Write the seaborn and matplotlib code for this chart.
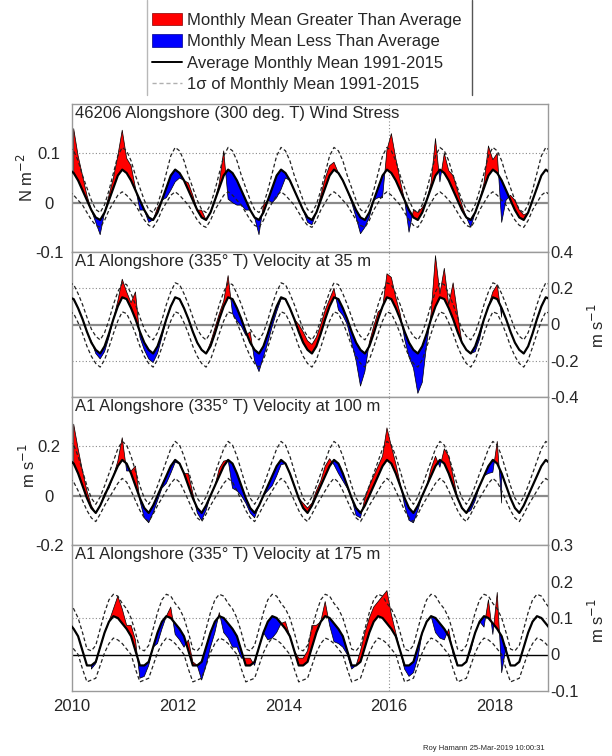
import numpy as np
import pandas as pd
import seaborn as sns
import matplotlib
matplotlib.use("Agg")
import matplotlib.pyplot as plt
from matplotlib.patches import Patch
from matplotlib.lines import Line2D

NaN = np.nan
years = list(range(2010, 2019))
x_ticks = [2010, 2012, 2014, 2016, 2018]

# ---------------- Panel 1: 46206 wind stress (N m^-2) ----------------
wind_clim = [0.060, 0.045, 0.025, 0.005, -0.015, -0.030, -0.035, -0.020, 0.005, 0.030, 0.055, 0.067]
wind_sig = [0.045, 0.040, 0.030, 0.025, 0.020, 0.016, 0.015, 0.016, 0.020, 0.030, 0.040, 0.045]
wind_anom = [
    0.09, 0.05, 0.03, 0.01, 0.0, -0.01, -0.03, 0.0, 0.01, 0.02, 0.04, 0.08,      # 2010
    0.03, 0.03, 0.005, -0.02, 0.0, -0.01, 0.0, 0.01, 0.0, -0.02, -0.03, -0.025,  # 2011
    -0.01, 0.0, 0.015, 0.01, 0.0, 0.015, 0.0, 0.0, 0.0, 0.01, 0.05, -0.06,       # 2012
    -0.06, -0.05, -0.03, -0.02, 0.0, 0.0, -0.03, 0.015, 0.0, -0.03, -0.045, -0.04,  # 2013
    -0.01, 0.0, 0.0, 0.0, 0.0, -0.01, -0.01, 0.0, 0.01, 0.02, 0.02, 0.015,       # 2014
    0.0, 0.0, 0.0, -0.005, -0.015, -0.033, -0.015, -0.01, 0.0, -0.02, -0.045, 0.04,  # 2015
    0.08, 0.045, 0.02, 0.0, -0.045, 0.015, 0.015, 0.01, 0.0, 0.01, 0.075, -0.025,  # 2016
    0.04, 0.02, 0.03, 0.02, 0.01, 0.0, -0.015, 0.0, 0.0, 0.01, 0.06, 0.02,       # 2017
    0.04, -0.085, -0.02, 0.01, 0.02, 0.015, 0.01, 0.0, NaN, NaN, NaN, NaN,       # 2018
]

# ---------------- Panel 2: A1 velocity at 35 m (m s^-1) ----------------
v35_clim = [0.14, 0.09, 0.03, -0.04, -0.10, -0.14, -0.16, -0.12, -0.05, 0.03, 0.10, 0.15]
v35_sig = [0.08, 0.08, 0.08, 0.08, 0.075, 0.075, 0.075, 0.075, 0.075, 0.08, 0.08, 0.08]
v35_anom = [
    NaN, NaN, NaN, NaN, 0.01, -0.02, -0.03, -0.03, -0.02, 0.0, 0.03, 0.10,       # 2010
    0.04, 0.03, 0.15, -0.03, -0.04, -0.05, -0.05, -0.04, -0.02, 0.0, 0.0, 0.0,   # 2011
    0.0, 0.0, 0.0, 0.0, 0.0, 0.0, 0.0, 0.02, 0.03, 0.03, 0.03, 0.12,             # 2012
    -0.08, -0.07, -0.04, -0.02, 0.06, -0.06, -0.10, -0.06, -0.05, -0.04, -0.03, -0.01,  # 2013
    0.0, 0.0, 0.0, 0.04, 0.06, 0.05, 0.05, 0.05, 0.05, 0.05, 0.04, 0.05,         # 2014
    -0.06, -0.04, -0.03, -0.06, -0.10, -0.20, -0.10, 0.02, 0.04, 0.04, -0.01, 0.13,  # 2015
    0.12, 0.06, 0.03, -0.04, -0.08, -0.10, -0.22, -0.20, -0.06, 0.03, 0.28, 0.02,  # 2016
    0.17, 0.02, 0.20, 0.10, 0.0, 0.0, 0.0, -0.03, -0.03, 0.0, 0.0, 0.03,         # 2017
    0.08, -0.05, NaN, NaN, NaN, NaN, NaN, NaN, NaN, NaN, NaN, NaN,               # 2018
]

# ---------------- Panel 3: A1 velocity at 100 m (m s^-1) ----------------
v100_clim = [0.13, 0.09, 0.04, -0.01, -0.05, -0.07, -0.04, 0.0, 0.04, 0.08, 0.12, 0.145]
v100_sig = [0.075, 0.07, 0.06, 0.05, 0.04, 0.035, 0.035, 0.04, 0.05, 0.06, 0.07, 0.075]
v100_anom = [
    0.16, 0.10, 0.06, 0.03, 0.01, 0.0, 0.0, 0.01, -0.01, 0.0, 0.02, 0.09,        # 2010
    -0.03, 0.01, 0.08, -0.01, -0.04, -0.04, -0.03, -0.02, -0.01, -0.03, -0.03, -0.01,  # 2011
    0.0, 0.0, 0.05, 0.02, -0.02, -0.03, -0.02, 0.0, 0.0, 0.03, 0.02, 0.0,        # 2012
    -0.10, -0.07, -0.04, -0.02, -0.02, -0.02, 0.0, 0.0, -0.02, -0.04, -0.04, -0.02,  # 2013
    0.0, 0.0, 0.0, 0.0, 0.02, 0.02, 0.01, 0.02, 0.02, 0.04, 0.03, -0.02,         # 2014
    -0.04, -0.03, -0.01, 0.0, -0.03, -0.02, 0.03, 0.04, 0.04, 0.04, 0.04, 0.13,  # 2015
    0.07, 0.04, 0.01, -0.03, -0.05, -0.04, -0.02, 0.0, 0.0, 0.03, 0.04, -0.03,   # 2016
    0.06, 0.07, 0.04, 0.0, 0.0, 0.0, -0.02, -0.02, 0.0, 0.0, -0.03, -0.05,       # 2017
    0.09, -0.12, NaN, NaN, NaN, NaN, NaN, NaN, NaN, NaN, NaN, NaN,               # 2018
]

# ---------------- Panel 4: A1 velocity at 175 m (m s^-1) ----------------
v175_clim = [0.07, 0.05, 0.01, -0.03, -0.03, -0.02, 0.02, 0.06, 0.09, 0.105, 0.10, 0.085]
v175_sig = [0.055, 0.05, 0.05, 0.045, 0.04, 0.045, 0.05, 0.055, 0.06, 0.06, 0.06, 0.055]
v175_anom = [
    NaN, NaN, NaN, NaN, -0.01, -0.005, 0.0, 0.0, 0.0, 0.02, 0.06, 0.04,         # 2010
    0.01, 0.03, 0.03, -0.035, -0.03, -0.01, 0.0, -0.03, -0.02, 0.0, 0.03, -0.03,  # 2011
    -0.03, -0.03, 0.03, 0.01, 0.0, -0.05, -0.05, -0.04, -0.03, 0.01, -0.04, -0.04,  # 2012
    -0.05, -0.03, -0.02, 0.02, 0.02, -0.01, 0.0, 0.0, -0.05, -0.06, -0.04, 0.0,  # 2013
    0.02, 0.0, 0.0, 0.02, 0.02, 0.03, 0.06, 0.02, 0.0, 0.04, -0.02, -0.05,       # 2014
    -0.04, -0.03, -0.01, -0.01, 0.0, 0.03, 0.04, 0.04, 0.04, 0.04, 0.06, 0.09,   # 2015
    0.04, 0.01, 0.0, -0.01, -0.03, -0.03, -0.03, 0.0, 0.0, 0.0, -0.04, -0.04,    # 2016
    -0.03, 0.02, -0.01, 0.0, 0.0, 0.0, -0.01, 0.0, 0.0, -0.03, 0.05, -0.03,      # 2017
    0.10, -0.10, 0.01, NaN, NaN, NaN, NaN, NaN, NaN, NaN, NaN, NaN,              # 2018
]

titles = [
    "46206 Alongshore (300 deg. T) Wind Stress",
    "A1 Alongshore (335\u00b0 T) Velocity at 35 m",
    "A1 Alongshore (335\u00b0 T) Velocity at 100 m",
    "A1 Alongshore (335\u00b0 T) Velocity at 175 m",
]
ylabels = ["N m$^{-2}$", "m s$^{-1}$", "m s$^{-1}$", "m s$^{-1}$"]
yticks = [[-0.1, 0, 0.1], [-0.4, -0.2, 0, 0.2, 0.4], [-0.2, 0, 0.2], [-0.1, 0, 0.1, 0.2, 0.3]]
yticklabels = [["-0.1", "0", "0.1"], ["-0.4", "-0.2", "0", "0.2", "0.4"],
               ["-0.2", "0", "0.2"], ["-0.1", "0", "0.1", "0.2", "0.3"]]
ylims = [(-0.1, 0.2), (-0.4, 0.4), (-0.2, 0.4), (-0.1, 0.3)]
grid_vals = [[0.1], [-0.2, 0.2], [0.2], [0.1]]
sides = ["left", "right", "left", "right"]

data = [(wind_clim, wind_sig, wind_anom), (v35_clim, v35_sig, v35_anom),
        (v100_clim, v100_sig, v100_anom), (v175_clim, v175_sig, v175_anom)]

# ---------------- figure ----------------
sns.set_style("white")
plt.rcParams["font.family"] = ["Liberation Sans", "DejaVu Sans"]
plt.rcParams["axes.unicode_minus"] = False

W, H = 612, 756
fig = plt.figure(figsize=(W / 100, H / 100), dpi=100)
left_px, right_px = 71.5, 548
bands = [(104, 252), (252, 397), (397, 545), (545, 691)]
ylabel_pos = [(26, 178), (597, 325), (28, 465), (597, 620)]
spine_col = "#9a9a9a"

t_obs = np.array([y + (m + 0.5) / 12 for y in years for m in range(12)])

for i, ((clim, sig, anom), (top, bot)) in enumerate(zip(data, bands)):
    ax = fig.add_axes([left_px / W, 1 - bot / H, (right_px - left_px) / W, (bot - top) / H])
    clim = np.array(clim)
    sig = np.array(sig)
    avg_obs = np.tile(clim, len(years))
    obs = avg_obs + np.array(anom)

    t_cl = np.concatenate([[2010 - 0.5 / 12], t_obs, [2019 + 0.5 / 12]])
    cl = np.concatenate([[clim[-1]], avg_obs, [clim[0]]])
    sg = np.concatenate([[sig[-1]], np.tile(sig, len(years)), [sig[0]]])
    df = pd.DataFrame({"t": t_cl, "avg": cl, "hi": cl + sg, "lo": cl - sg})

    # reference lines
    ax.axhline(0, color=("black" if i == 3 else "#8a8a8a"), lw=(1.0 if i == 3 else 1.6), zorder=1)
    for g in grid_vals[i]:
        ax.axhline(g, color="#8a8a8a", lw=0.8, ls=(0, (1, 2)), zorder=1)
    ax.axvline(2016, color="#8a8a8a", lw=0.8, ls=(0, (1, 2)), zorder=1)

    ax.fill_between(t_obs, obs, avg_obs, where=obs >= avg_obs, interpolate=True,
                    facecolor="#ff0000", edgecolor="black", lw=0.5, zorder=2)
    ax.fill_between(t_obs, obs, avg_obs, where=obs < avg_obs, interpolate=True,
                    facecolor="#0000ff", edgecolor="black", lw=0.5, zorder=2)

    sns.lineplot(data=df, x="t", y="hi", ax=ax, color="#222222", lw=0.9,
                 linestyle=(0, (3, 2)), errorbar=None, zorder=3)
    sns.lineplot(data=df, x="t", y="lo", ax=ax, color="#222222", lw=0.9,
                 linestyle=(0, (3, 2)), errorbar=None, zorder=3)
    sns.lineplot(data=df, x="t", y="avg", ax=ax, color="black", lw=1.6,
                 errorbar=None, zorder=4)

    ax.set_xlim(2010, 2019)
    ax.set_ylim(*ylims[i])
    ax.set_xlabel("")
    ax.set_ylabel("")
    ax.set_xticks(x_ticks)
    if i == 3:
        ax.set_xticklabels([str(x) for x in x_ticks], fontsize=12)
    else:
        ax.set_xticklabels([])
    ax.set_yticks(yticks[i])
    ax.set_yticklabels(yticklabels[i], fontsize=12)
    ax.tick_params(axis="both", length=0)
    ax.tick_params(axis="x", pad=6)
    if sides[i] == "right":
        ax.yaxis.tick_right()
        ax.tick_params(axis="y", pad=1.5, length=0)
    else:
        ax.tick_params(axis="y", pad=16, length=0)
        for lab in ax.get_yticklabels():
            lab.set_horizontalalignment("center")
    for sp in ax.spines.values():
        sp.set_color(spine_col)
        sp.set_linewidth(1.0)
    ax.text(0.008, 0.985, titles[i], transform=ax.transAxes, ha="left", va="top",
            fontsize=12, zorder=5)
    xl, yl = ylabel_pos[i]
    fig.text(xl / W, 1 - yl / H, ylabels[i], rotation=90, ha="center", va="center", fontsize=12)

handles = [
    Patch(facecolor="#ff0000", edgecolor="#880000", lw=0.5),
    Patch(facecolor="#0000ff", edgecolor="#000088", lw=0.5),
    Line2D([0], [0], color="black", lw=1.4),
    Line2D([0], [0], color="#b0b0b0", lw=1.0, ls=(0, (3, 2))),
]
labels = ["Monthly Mean Greater Than Average", "Monthly Mean Less Than Average",
          "Average Monthly Mean 1991-2015", "1\u03c3 of Monthly Mean 1991-2015"]
leg = fig.legend(handles, labels, loc="lower left", bbox_to_anchor=(147 / W, 1 - 97 / H),
                 fontsize=12, frameon=False, handlelength=1.8,
                 handleheight=0.75, handletextpad=0.3, labelspacing=0.38,
                 borderpad=0.3, borderaxespad=0)
# legend box sides (top edge lies outside the figure in the original)
for xb, col in [(147, "#b8b8b8"), (472, "#555555")]:
    fig.add_artist(Line2D([xb / W, xb / W], [1 - 95 / H, 1.0], color=col, lw=1.0,
                          transform=fig.transFigure))

fig.text(545 / W, 1 - 748 / H, "Roy Hamann 25-Mar-2019 10:00:31", ha="right",
         va="center", fontsize=5.5)

fig.savefig("out.png", dpi=100)
